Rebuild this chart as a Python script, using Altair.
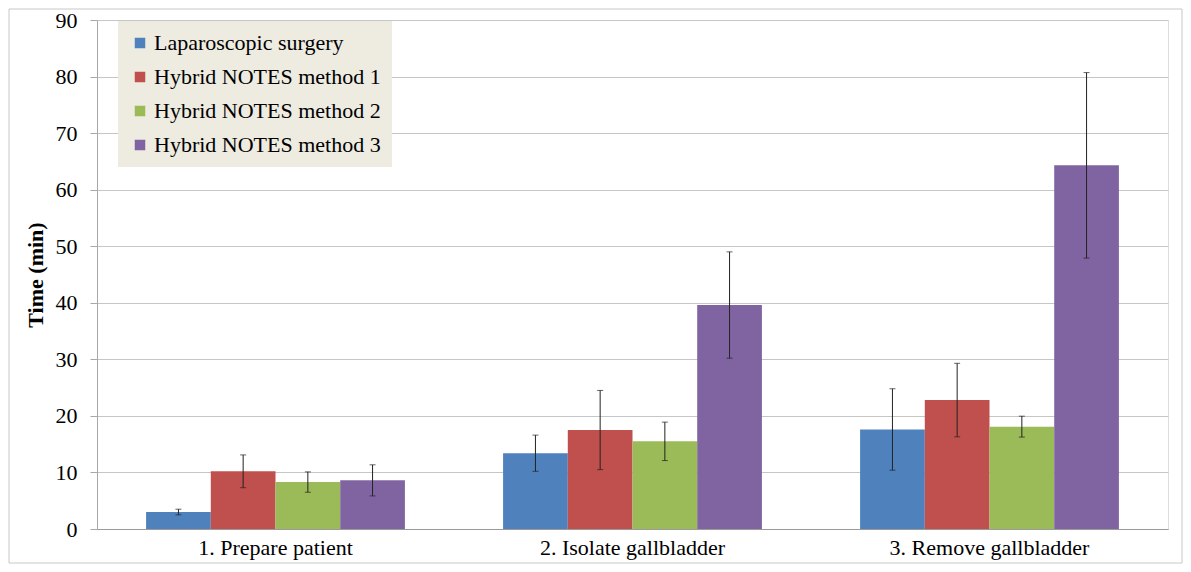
import altair as alt
import pandas as pd

categories = ["1. Prepare patient", "2. Isolate gallbladder", "3. Remove gallbladder"]
series = ["Laparoscopic surgery", "Hybrid NOTES method 1", "Hybrid NOTES method 2", "Hybrid NOTES method 3"]
colors = ["#4F81BD", "#C0504D", "#9BBB59", "#8064A2"]

means = {
    "Laparoscopic surgery": [3.0, 13.4, 17.6],
    "Hybrid NOTES method 1": [10.2, 17.5, 22.8],
    "Hybrid NOTES method 2": [8.3, 15.5, 18.1],
    "Hybrid NOTES method 3": [8.6, 39.6, 64.3],
}
sds = {
    "Laparoscopic surgery": [0.5, 3.2, 7.2],
    "Hybrid NOTES method 1": [2.9, 7.0, 6.5],
    "Hybrid NOTES method 2": [1.8, 3.4, 1.85],
    "Hybrid NOTES method 3": [2.75, 9.4, 16.4],
}

rows = []
for s in series:
    for i, c in enumerate(categories):
        m = means[s][i]
        sd = sds[s][i]
        rows.append({"Step": c, "Method": s, "Time": m, "Low": m - sd, "High": m + sd})
df = pd.DataFrame(rows)

FONT = "'Liberation Serif', 'Times New Roman', Times, serif"
FS = 22

x_enc = alt.X("Step:N", sort=categories, title=None,
              scale=alt.Scale(paddingInner=0.275, paddingOuter=0.1375),
              axis=alt.Axis(labelAngle=0, labelPadding=8, ticks=False,
                            domainColor="#9a9a9a", labelLimit=0))
xoff = alt.XOffset("Method:N", sort=series)

bars = alt.Chart(df).mark_bar().encode(
    x=x_enc,
    xOffset=xoff,
    y=alt.Y("Time:Q", title="Time (min)",
            scale=alt.Scale(domain=[0, 90], nice=False),
            axis=alt.Axis(values=list(range(0, 91, 10)), tickSize=7,
                          tickColor="#a8a8a8", labelPadding=13,
                          gridColor="#c6c6c6", domainColor="#a8a8a8",
                          titleFontWeight="bold", titlePadding=8)),
    color=alt.Color("Method:N", sort=series,
                    scale=alt.Scale(domain=series, range=colors),
                    legend=alt.Legend(title=None, orient="none", legendX=21, legendY=1,
                                      fillColor="#EEECE1", padding=11, rowPadding=12,
                                      symbolType="square", symbolSize=110,
                                      symbolStrokeWidth=0, labelOffset=3,
                                      symbolOpacity=1, labelLimit=0)),
)

err = alt.Chart(df).mark_rule(color="#222", strokeWidth=1).encode(
    x=alt.X("Step:N", sort=categories),
    xOffset=xoff,
    y="Low:Q",
    y2="High:Q",
)

cap_hi = alt.Chart(df).mark_tick(color="#222", thickness=1, size=6, orient="horizontal").encode(
    x=alt.X("Step:N", sort=categories),
    xOffset=xoff,
    y="High:Q",
)
cap_lo = alt.Chart(df).mark_tick(color="#222", thickness=1, size=6, orient="horizontal").encode(
    x=alt.X("Step:N", sort=categories),
    xOffset=xoff,
    y="Low:Q",
)

frame = alt.Chart(pd.DataFrame({"a": [0]})).mark_rect(
    fill=None, stroke="#c8c8c8", strokeWidth=1, clip=False
).encode(
    x=alt.value(-88), x2=alt.value(1085), y=alt.value(-11), y2=alt.value(543)
)

chart = alt.layer(bars, err, cap_hi, cap_lo, frame).properties(
    width=1071, height=509,
    autosize=alt.AutoSizeParams(type="none"),
    padding={"left": 89, "top": 12, "right": 15, "bottom": 35},
).configure_view(stroke=None).configure(background="white", font=FONT).configure_axis(
    labelFont=FONT, labelFontSize=FS, labelColor="#000", labelLimit=0,
    titleFont=FONT, titleFontSize=FS, titleColor="#000",
).configure_legend(
    labelFont=FONT, labelFontSize=FS, labelColor="#000",
)

chart.save("out.html", embed_options={"renderer": "svg", "actions": False})
